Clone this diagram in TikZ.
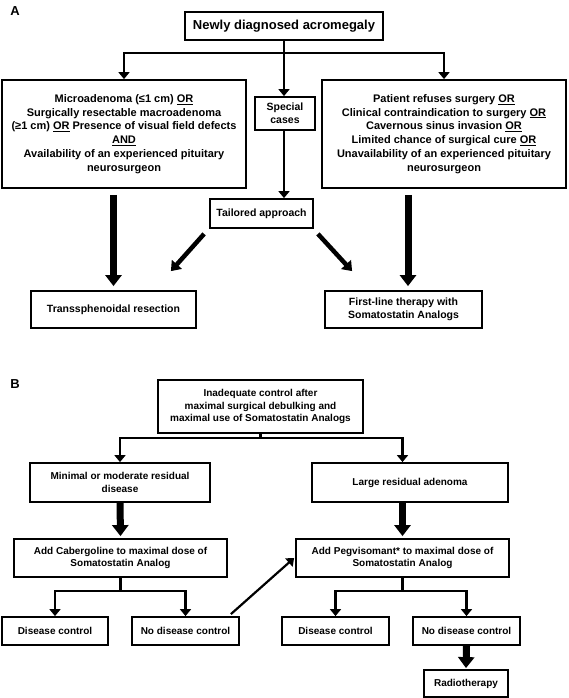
\documentclass[tikz,border=0pt]{standalone}
\usepackage{fontspec}
\setmainfont{Liberation Sans}
\usetikzlibrary{arrows.meta}
\tikzset{
  box/.style={draw, line width=1.8pt, inner sep=0pt, align=center, font=\bfseries\fontsize{10.5}{13}\selectfont},
  bigtxt/.style={font=\bfseries\fontsize{11}{13.8}\selectfont},
  btxt/.style={font=\bfseries\fontsize{10}{12.2}\selectfont},
  conn/.style={line width=2.2pt},
  thinarrow/.style={line width=2.2pt, -{Triangle[width=11pt,length=7pt]}},
  fatarrow/.style={line width=7pt, -{Triangle[width=16pt,length=11pt]}},
  diagarrow/.style={line width=4.5pt, -{Triangle[width=13pt,length=9pt]}},
  panel/.style={font=\bfseries\fontsize{13}{15}\selectfont},
}
\begin{document}
\begin{tikzpicture}[x=1pt,y=-1pt]
\useasboundingbox (0,0) rectangle (568,698);
% ---------- Panel A ----------
\node[panel] (labA) at (15,11) {A};
\node[box, minimum width=198pt, minimum height=28pt, font=\bfseries\fontsize{13}{15}\selectfont] (top) at (284,26) {Newly diagnosed acromegaly};
\node[box, bigtxt, minimum width=244pt, minimum height=108pt] (L) at (124,134)
  {Microadenoma (≤1 cm) \underline{OR}\\Surgically resectable macroadenoma\\(≥1 cm) \underline{OR} Presence of visual field defects\\\underline{AND}\\Availability of an experienced pituitary\\neurosurgeon};
\node[box, minimum width=60pt, minimum height=33pt] (S) at (285,113.5) {Special\\cases};
\node[box, bigtxt, minimum width=244pt, minimum height=108pt] (R) at (444,134)
  {Patient refuses surgery \underline{OR}\\Clinical contraindication to surgery \underline{OR}\\Cavernous sinus invasion \underline{OR}\\Limited chance of surgical cure \underline{OR}\\Unavailability of an experienced pituitary\\neurosurgeon};
\node[box, minimum width=103pt, minimum height=29pt] (Tail) at (261.5,213.5) {Tailored approach};
\node[box, minimum width=165pt, minimum height=37pt] (T) at (113.5,309.5) {Transsphenoidal resection};
\node[box, minimum width=157pt, minimum height=37pt] (F) at (403.5,309.5) {First-line therapy with\\Somatostatin Analogs};
\coordinate (jA) at (284,53);
\draw[conn] (top.south) -- (jA);
\draw[thinarrow] (jA) -| (L.north);
\draw[thinarrow] (jA) -| (R.north);
\draw[thinarrow] (jA) -- (S.north -| jA);
\draw[thinarrow] (S.south -| jA) -- (Tail.north -| jA);
\draw[fatarrow] ([yshift=-6pt]L.south -| T.north) -- ([yshift=4pt]T.north);
\draw[fatarrow] ([xshift=4.5pt]F.north |- R.south) ++(0,6) -- ([xshift=4.5pt,yshift=4pt]F.north);
\draw[diagarrow] ([xshift=-5pt,yshift=-5pt]Tail.south west) -- ([xshift=-26pt,yshift=19pt]T.north east);
\draw[diagarrow] ([xshift=4pt,yshift=-5pt]Tail.south east) -- ([xshift=28pt,yshift=19pt]F.north west);
% ---------- Panel B ----------
\node[panel] (labB) at (15,384) {B};
\node[box, btxt, minimum width=205pt, minimum height=53pt] (Btop) at (260.5,406.5)
  {Inadequate control after\\maximal surgical debulking and\\maximal use of Somatostatin Analogs};
\node[box, btxt, minimum width=180pt, minimum height=39pt] (Bmin) at (120,482.5) {Minimal or moderate residual\\disease};
\node[box, btxt, minimum width=196pt, minimum height=39pt] (Blarge) at (410,482.5) {Large residual adenoma};
\node[box, btxt, minimum width=213pt, minimum height=38pt] (Cab) at (120.5,558) {Add Cabergoline to maximal dose of\\Somatostatin Analog};
\node[box, btxt, minimum width=213pt, minimum height=38pt] (Peg) at (402.5,558) {Add Pegvisomant* to maximal dose of\\Somatostatin Analog};
\node[box, btxt, minimum width=106pt, minimum height=28pt] (DCL) at (55,631) {Disease control};
\node[box, btxt, minimum width=107pt, minimum height=28pt] (NDCL) at (185.5,631) {No disease control};
\node[box, btxt, minimum width=107pt, minimum height=28pt] (DCR) at (335.5,631) {Disease control};
\node[box, btxt, minimum width=107pt, minimum height=28pt] (NDCR) at (466.5,631) {No disease control};
\node[box, btxt, minimum width=84pt, minimum height=27pt] (Radio) at (466,683.5) {Radiotherapy};
\coordinate (jB) at (260.5,438);
\coordinate (jC) at (120.5,591);
\coordinate (jD) at (402.5,591);
\draw[conn] (Btop.south) -- (jB);
\draw[thinarrow] (jB) -| (Bmin.north);
\draw[thinarrow] (jB) -| (Peg.north |- Blarge.north);
\draw[fatarrow] (Bmin.south) -- ([yshift=2pt]Cab.north);
\draw[fatarrow] (Peg.north |- Blarge.south) -- ([yshift=2pt]Peg.north);
\draw[conn] (Cab.south) -- (jC);
\draw[thinarrow] (jC) -| (DCL.north);
\draw[thinarrow] (jC) -| (NDCL.north);
\draw[conn] (Peg.south) -- (jD);
\draw[thinarrow] (jD) -| (DCR.north);
\draw[thinarrow] (jD) -| (NDCR.north);
\draw[thinarrow] ([xshift=-9pt,yshift=2pt]NDCL.north east) -- ([xshift=-1pt]Peg.west);
\draw[fatarrow] (NDCR.south) -- ([yshift=1pt]Radio.north);
\end{tikzpicture}
\end{document}
